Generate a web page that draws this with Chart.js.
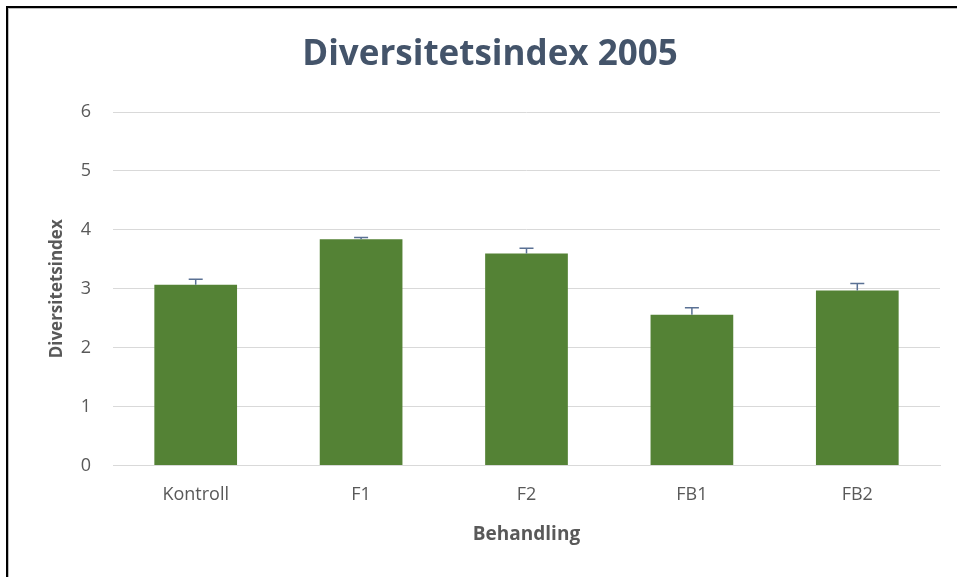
<!DOCTYPE html>
<html>
<head>
<meta charset="utf-8">
<script src="https://cdn.jsdelivr.net/npm/chart.js@4"></script>
<style>
    html, body { margin: 0; padding: 0; background: #fff; }
    #wrap { position: relative; width: 957px; height: 577px; overflow: hidden; }
    #frame {
        position: absolute; left: 6px; top: 6px; right: -10px; bottom: -10px;
        border-top: 2px solid #000; border-left: 2px solid #000;
        box-shadow: inset 1px 1px 0 #bdbdbd;
    }
    #c { position: absolute; left: 0; top: 0; }
</style>
</head>
<body>
<div id="wrap">
    <div id="frame"></div>
    <canvas id="c" width="957" height="577"></canvas>
</div>
<script>
let categories = ['Kontroll', 'F1', 'F2', 'FB1', 'FB2'],
    values = [3.07, 3.84, 3.60, 2.56, 2.97],
    errors = [0.09, 0.03, 0.09, 0.12, 0.12],
    yTicks = [0, 1, 2, 3, 4, 5, 6];

// plus-only error bars, like the excel chart
const errorBars = {
    id: 'errorBars',
    afterDatasetsDraw(chart) {
        let ctx = chart.ctx,
            meta = chart.getDatasetMeta(0),
            yScale = chart.scales.y;

        ctx.save();
        ctx.strokeStyle = '#5a7194';
        ctx.lineWidth = 1.5;
        meta.data.forEach(function (bar, k) {
            let x = bar.x,
                yTop = yScale.getPixelForValue(values[k] + errors[k]),
                yBase = yScale.getPixelForValue(values[k]);
            ctx.beginPath();
            ctx.moveTo(x, yBase);
            ctx.lineTo(x, yTop);
            ctx.moveTo(x - 7, yTop);
            ctx.lineTo(x + 7, yTop);
            ctx.stroke();
        });
        ctx.restore();
    }
};

let ctx = document.getElementById('c'),
    myChart = new Chart(ctx, {
        type: 'bar',
        data: {
            labels: categories,
            datasets: [{
                data: values,
                backgroundColor: '#548235',
                borderWidth: 0,
                barPercentage: 0.5,
                categoryPercentage: 1.0
            }]
        },
        plugins: [errorBars],
        options: {
            responsive: false,
            animation: false,
            layout: {
                padding: { left: 40, right: 17, top: 22, bottom: 31 }
            },
            plugins: {
                legend: { display: false },
                tooltip: { enabled: false },
                title: {
                    display: true,
                    text: 'Diversitetsindex 2005',
                    color: '#44546a',
                    font: { family: 'Open Sans', size: 35, weight: 'bold' },
                    padding: { top: 12, bottom: 36 }
                }
            },
            scales: {
                x: {
                    grid: { display: false, drawTicks: false },
                    border: { display: true, color: '#d9d9d9' },
                    ticks: {
                        color: '#595959',
                        font: { family: 'Open Sans', size: 18 },
                        padding: 18
                    },
                    title: {
                        display: true,
                        text: 'Behandling',
                        color: '#595959',
                        font: { family: 'Open Sans', size: 19, weight: 'bold' },
                        padding: { top: 0, bottom: 0 }
                    }
                },
                y: {
                    min: 0,
                    max: 6,
                    afterBuildTicks: function (scale) {
                        scale.ticks = yTicks.map(function (v) { return { value: v }; });
                    },
                    afterFit: function (scale) {
                        scale.width = 73;
                    },
                    grid: { color: '#d9d9d9', drawTicks: false },
                    border: { display: false },
                    ticks: {
                        color: '#595959',
                        font: { family: 'Open Sans', size: 18 },
                        padding: 22
                    },
                    title: {
                        display: true,
                        text: 'Diversitetsindex',
                        color: '#595959',
                        font: { family: 'Open Sans', size: 17, weight: 'bold' },
                        padding: { top: 7, bottom: 0 }
                    }
                }
            }
        }
    });
</script>
</body>
</html>
